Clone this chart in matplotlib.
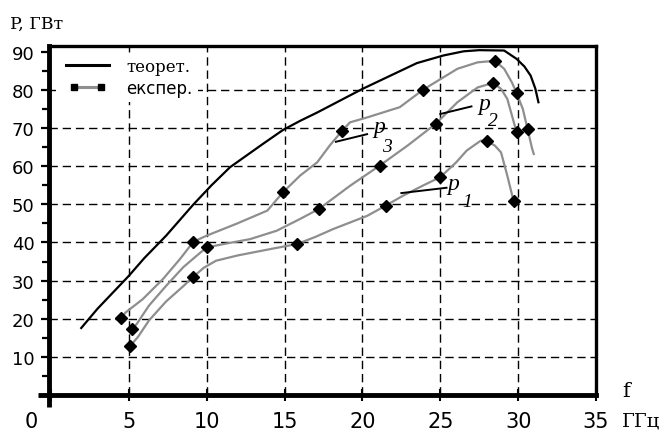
import matplotlib
matplotlib.use('Agg')
import matplotlib.pyplot as plt
from matplotlib.lines import Line2D
from matplotlib.legend_handler import HandlerLine2D

# theoretical curve, P (GW) vs f (GHz)
theory_f = [1.95, 3.0, 4.0, 5.0, 6.0, 7.4, 9.15, 10.3, 11.5, 13.6, 14.9, 16.0, 17.1, 20.0,
            21.8, 23.5, 25.2, 26.5, 27.5, 29.1, 29.9, 30.4, 30.8, 31.1, 31.3]
theory_p = [17.5, 22.6, 26.9, 31.2, 35.9, 41.8, 50.0, 55.0, 59.8, 65.9, 69.6, 72.0, 74.2, 80.4,
            83.9, 87.2, 89.2, 90.3, 90.6, 90.5, 88.3, 86.3, 83.9, 80.5, 76.9]

# experimental curves (traced line) and measured points
p1_f = [5.1, 5.6, 6.3, 7.4, 8.5, 9.1, 9.8, 10.6, 12.0, 14.0, 15.8, 17.0, 18.1, 20.3, 21.5,
        22.6, 23.9, 25.0, 26.0, 26.7, 27.6, 28.0, 28.5, 28.9, 29.3, 29.7]
p1_p = [12.8, 15.2, 19.5, 24.5, 28.5, 30.8, 33.3, 35.2, 36.6, 38.2, 39.6, 41.5, 43.5, 47.0, 49.7,
        52.3, 55.0, 57.2, 61.0, 64.2, 66.8, 66.6, 65.5, 63.7, 57.6, 51.0]
p1_mf = [5.1, 9.1, 15.8, 21.5, 25.0, 28.0, 29.7]
p1_mp = [12.8, 30.8, 39.6, 49.7, 57.2, 66.6, 51.0]

p2_f = [5.2, 5.5, 6.3, 7.4, 8.5, 9.5, 10.0, 11.1, 12.8, 14.5, 16.0, 17.2, 19.2, 21.1,
        22.9, 24.7, 26.1, 27.4, 28.4, 28.9, 29.3, 29.6, 29.9]
p2_p = [17.2, 18.5, 23.4, 28.6, 33.5, 37.0, 38.7, 39.6, 40.9, 43.1, 46.2, 48.8, 54.9, 60.2,
        65.5, 71.2, 76.9, 80.8, 82.0, 80.4, 77.8, 73.4, 69.0]
p2_mf = [5.2, 10.0, 17.2, 21.1, 24.7, 28.4, 29.9]
p2_mp = [17.2, 38.7, 48.8, 60.2, 71.2, 82.0, 69.0]

p3_f = [4.5, 4.8, 5.9, 7.2, 8.3, 9.15, 10.0, 11.9, 13.9, 14.9, 16.0, 17.1, 17.9, 18.7, 19.2,
        20.3, 22.4, 23.9, 26.1, 27.4, 28.5, 29.1, 29.6, 29.9, 30.3, 30.6, 30.9, 31.0]
p3_p = [20.1, 21.6, 25.1, 30.4, 35.7, 40.2, 41.8, 44.9, 48.4, 53.2, 57.6, 61.1, 65.5, 69.4, 71.6,
        72.9, 75.6, 80.2, 85.7, 87.4, 87.8, 85.7, 82.1, 79.3, 75.1, 69.9, 64.6, 63.3]
p3_mf = [4.5, 9.15, 14.9, 18.7, 23.9, 28.5, 29.9, 30.6]
p3_mp = [20.1, 40.2, 53.2, 69.4, 80.2, 87.8, 79.3, 69.9]

x_ticks = [5, 10, 15, 20, 25, 30, 35]
y_ticks = [10, 20, 30, 40, 50, 60, 70, 80, 90]
legend_labels = ['теорет.', 'експер.']

GRAY = '#8e8e8e'


def plot_graph():
    fig = plt.figure(figsize=(6.72, 4.35), dpi=100)
    ax = fig.add_axes([0.0722, 0.0907, 0.8148, 0.8013])

    # grid, drawn by hand since there is no line at 90
    for v in y_ticks[:-1]:
        ax.axhline(v, color='black', lw=1.0, ls=(0, (6, 3.5)), zorder=1)
    for v in x_ticks[:-1]:
        ax.axvline(v, color='black', lw=1.0, ls=(0, (6, 3.5)), zorder=1)

    ax.plot(theory_f, theory_p, color='black', lw=1.6, zorder=3)
    for fx, py, mx, my in [(p1_f, p1_p, p1_mf, p1_mp),
                           (p2_f, p2_p, p2_mf, p2_mp),
                           (p3_f, p3_p, p3_mf, p3_mp)]:
        ax.plot(fx, py, color=GRAY, lw=1.6, zorder=3)
        ax.plot(mx, my, 'D', color='black', ms=6, zorder=4)

    # curve labels with leader lines
    for (x0, y0, x1, y1), (tx, ty), (sx, sy), sub in [
            ((22.5, 53.0, 25.4, 54.4), (25.85, 55.4), (26.7, 50.8), '1'),
            ((25.0, 73.8, 27.0, 75.8), (27.8, 76.6), (28.35, 72.2), '2'),
            ((18.3, 66.5, 20.3, 68.5), (21.1, 70.5), (21.6, 65.3), '3')]:
        ax.plot([x0, x1], [y0, y1], color='black', lw=1.4, zorder=3)
        ax.text(tx, ty, 'p', family='Liberation Serif', style='italic',
                fontsize=17, ha='center', va='center')
        ax.text(sx, sy, sub, family='Liberation Serif', style='italic',
                fontsize=14, ha='center', va='center')

    ax.set_xlim(-0.15, 35)
    ax.set_ylim(0, 91.7)
    ax.set_xticks([0] + x_ticks)
    ax.set_xticklabels([''] + [str(v) for v in x_ticks])
    ax.set_yticks(y_ticks)
    ax.set_yticks([v + 5 for v in range(0, 90, 10)], minor=True)

    ax.tick_params(axis='x', direction='inout', length=9, width=1.5, pad=7,
                   labelsize=15)
    ax.tick_params(axis='y', which='major', direction='out', length=6, width=1.6,
                   pad=4, labelsize=13)
    ax.tick_params(axis='y', which='minor', direction='out', length=5, width=1.6)

    for side in ['left', 'bottom']:
        ax.spines[side].set_linewidth(3.5)
    for side in ['top', 'right']:
        ax.spines[side].set_linewidth(2.4)

    # axes cross a little past the origin
    ax.plot([0, 0], [0, -0.035], transform=ax.transAxes, color='black', lw=3.5,
            clip_on=False, solid_capstyle='butt')
    ax.plot([-0.019, 0], [0, 0], transform=ax.transAxes, color='black', lw=3.5,
            clip_on=False, solid_capstyle='butt')

    h1 = Line2D([], [], color='black', lw=2.2)
    h2 = Line2D([], [], color=GRAY, lw=2.2, marker='s', ms=4,
                markerfacecolor='black', markeredgecolor='black')
    leg = ax.legend([h1, h2], legend_labels, loc='upper left',
                    bbox_to_anchor=(0.013, 0.979), frameon=True, fancybox=False,
                    facecolor='white', edgecolor='none', framealpha=1,
                    fontsize=12, borderpad=0.3, borderaxespad=0,
                    handlelength=3.2, handletextpad=0.75, labelspacing=0.2,
                    numpoints=2, handler_map={h2: HandlerLine2D(marker_pad=0.8)})
    leg.get_texts()[0].set_family('DejaVu Serif')
    leg.get_texts()[1].set_family('DejaVu Sans')

    fig.text(10 / 672, 1 - 24 / 435, 'P, ГВт', family='DejaVu Serif', fontsize=12.5,
             va='center', ha='left')
    fig.text(31 / 672, 1 - 422 / 435, '0', fontsize=15, ha='center', va='center')
    fig.text(622 / 672, 1 - 392 / 435, 'f', family='DejaVu Serif', fontsize=15,
             ha='left', va='center')
    fig.text(622 / 672, 1 - 422 / 435, 'ГГц', family='DejaVu Serif', fontsize=14,
             ha='left', va='center')

    fig.savefig('out.png', dpi=100)


if __name__ == "__main__":
    plot_graph()
